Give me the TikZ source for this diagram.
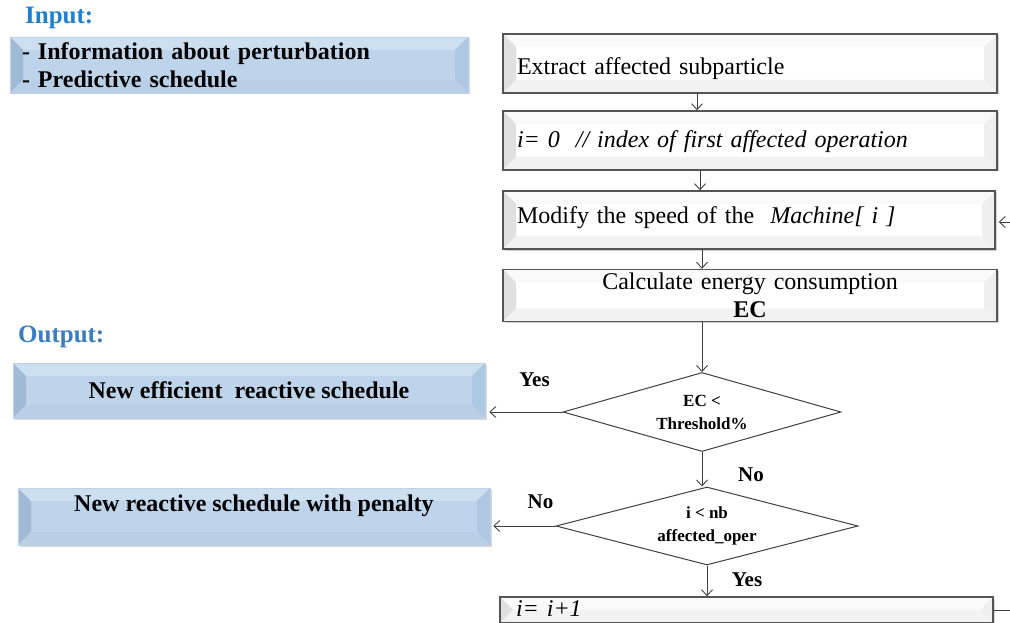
\documentclass[tikz,border=0pt]{standalone}
\usepackage{fontspec}
\setmainfont{Liberation Serif}
\usetikzlibrary{shapes.geometric,arrows.meta,shadows}
\definecolor{inblue}{HTML}{1F80D0}
\definecolor{outblue}{HTML}{3A7DC0}
\definecolor{bC}{HTML}{BED4EA}
\definecolor{bT}{HTML}{CCDFF1}
\definecolor{bL}{HTML}{A0BAD6}
\definecolor{bR}{HTML}{AFC8E2}
\definecolor{bB}{HTML}{B8CFE6}
\definecolor{wC}{HTML}{FFFFFF}
\definecolor{wT}{HTML}{FAFAFA}
\definecolor{wL}{HTML}{E0E0E0}
\definecolor{wR}{HTML}{EFEFEF}
\definecolor{wB}{HTML}{F2F2F2}
\definecolor{edge}{HTML}{555555}
\definecolor{lineC}{HTML}{404040}
\tikzset{
  bevel/.style n args={5}{path picture={
    \coordinate (bNW) at (path picture bounding box.north west);
    \coordinate (bSE) at (path picture bounding box.south east);
    \coordinate (bNE) at (bNW -| bSE);
    \coordinate (bSW) at (bNW |- bSE);
    \fill[#1] (bNW) rectangle (bSE);
    \fill[#2] (bNW) -- (bNE) -- ([shift={(-13pt,-13pt)}]bNE) -- ([shift={(13pt,-13pt)}]bNW) -- cycle;
    \fill[#3] (bNW) -- (bSW) -- ([shift={(13pt,13pt)}]bSW) -- ([shift={(13pt,-13pt)}]bNW) -- cycle;
    \fill[#4] (bNE) -- (bSE) -- ([shift={(-13pt,13pt)}]bSE) -- ([shift={(-13pt,-13pt)}]bNE) -- cycle;
    \fill[#5] (bSW) -- (bSE) -- ([shift={(-13pt,13pt)}]bSE) -- ([shift={(13pt,13pt)}]bSW) -- cycle;
  }},
  wbox/.style={rectangle, draw=edge, line width=1.4pt, fill=white,
    bevel={wC}{wT}{wL}{wR}{wB},
    drop shadow={shadow xshift=1.5pt, shadow yshift=-1.5pt, opacity=0.35},
    font=\fontsize{24}{28}\selectfont, inner xsep=14pt, inner ysep=0pt, align=left},
  bluebox/.style={rectangle, draw=bR!80!white, line width=0.5pt, fill=bC,
    bevel={bC}{bT}{bL}{bR}{bB},
    drop shadow={shadow xshift=1.5pt, shadow yshift=-1.5pt, opacity=0.3},
    font=\bfseries\fontsize{24}{28}\selectfont, inner xsep=12pt, inner ysep=0pt},
  dia/.style={shape=diamond, draw=lineC, line width=1pt, fill=white, inner sep=0pt,
    aspect=3.5, align=center, font=\bfseries\fontsize{17}{23}\selectfont},
  lbl/.style={inner sep=0pt, font=\bfseries\fontsize{21}{24}\selectfont},
  head/.style={inner sep=0pt, anchor=west, font=\bfseries\fontsize{25}{28}\selectfont},
  arr/.style={draw=lineC, line width=0.9pt, -{Straight Barb[length=6pt,width=11pt]}},
  plain/.style={draw=lineC, line width=0.9pt}
}
\begin{document}
\begin{tikzpicture}[x=1pt,y=-1pt]
\useasboundingbox (0,0) rectangle (1010,623);
\fill[white] (0,0) rectangle (1010,623);

% left side
\node[head, text=inblue] (inl) at (25,18) {Input:};
\node[bluebox, minimum width=458pt, minimum height=56pt, text width=434pt, align=left]
  (inbox) at (239,65) {- Information about perturbation\\- Predictive schedule};
\node[head, text=outblue] (outl) at (18,337) {Output:};
\node[bluebox, minimum width=472pt, minimum height=55pt, align=center]
  (o1) at (249,390.5) {New efficient~~reactive schedule};
\node[bluebox, minimum width=472pt, minimum height=57pt, inner ysep=6pt,
  text height=17pt, text depth=28pt, align=center]
  (o2) at (254,516.5) {New reactive schedule with penalty};

% right flow
\node[wbox, minimum width=494pt, minimum height=59pt, text width=466pt,
  text height=23pt, text depth=1pt]
  (b1) at (750,63.5) {Extract affected subparticle};
\node[wbox, minimum width=494pt, minimum height=59pt, text width=466pt,
  text height=17pt, text depth=3pt]
  (b2) at (750,140.5) {\itshape i= 0~~// index of first affected operation};
\node[wbox, minimum width=492pt, minimum height=58pt, text width=464pt,
  text height=14pt, text depth=8pt]
  (b3) at (749,220) {Modify the speed of the~~\textit{Machine[ i ]}};
\node[wbox, minimum width=494pt, minimum height=52pt, text width=466pt, align=center]
  (b4) at (750,295.5) {Calculate energy consumption\\\textbf{EC}};
\node[dia, minimum width=278pt, minimum height=79pt] (d1) at (702,412) {EC <\\Threshold\%};
\node[dia, minimum width=302pt, minimum height=78pt] (d2) at (707,526) {i < nb\\affected\_oper};
\node[wbox, minimum width=493pt, minimum height=26pt, text width=461pt, inner xsep=16pt,
  text height=15pt, text depth=3pt]
  (b5) at (746.5,610) {\itshape i= i+1};

% labels
\node[lbl] (y1) at (534.5,380) {Yes};
\node[lbl] (n1) at (751,475) {No};
\node[lbl] (n2) at (540.5,502) {No};
\node[lbl] (y2) at (747,580) {Yes};

% connectors
\coordinate (xa) at (697,0);
\coordinate (xb) at (700,0);
\coordinate (xc) at (702,0);
\draw[arr] (b1.south -| xa) -- (b2.north -| xa);
\draw[arr] (b2.south -| xb) -- (b3.north -| xb);
\draw[arr] (b3.south -| xc) -- (b4.north -| xc);
\draw[arr] (b4.south -| d1.north) -- (d1.north);
\draw[arr] (d1.south) -- (d1.south |- d2.north);
\draw[arr] (d2.south) -- (d2.south |- b5.north);
\draw[arr, shorten >=4pt] (d1.west) -- (d1.west -| o1.east);
\draw[arr, shorten >=3pt] (d2.west) -- (d2.west -| o2.east);
\coordinate (rb) at (1010,610);
\coordinate (rt) at (1010,222);
\draw[plain] (b5.east) -- (rb);
\draw[arr, shorten >=3pt] (rt) -- (b3.east |- rt);
\end{tikzpicture}
\end{document}
